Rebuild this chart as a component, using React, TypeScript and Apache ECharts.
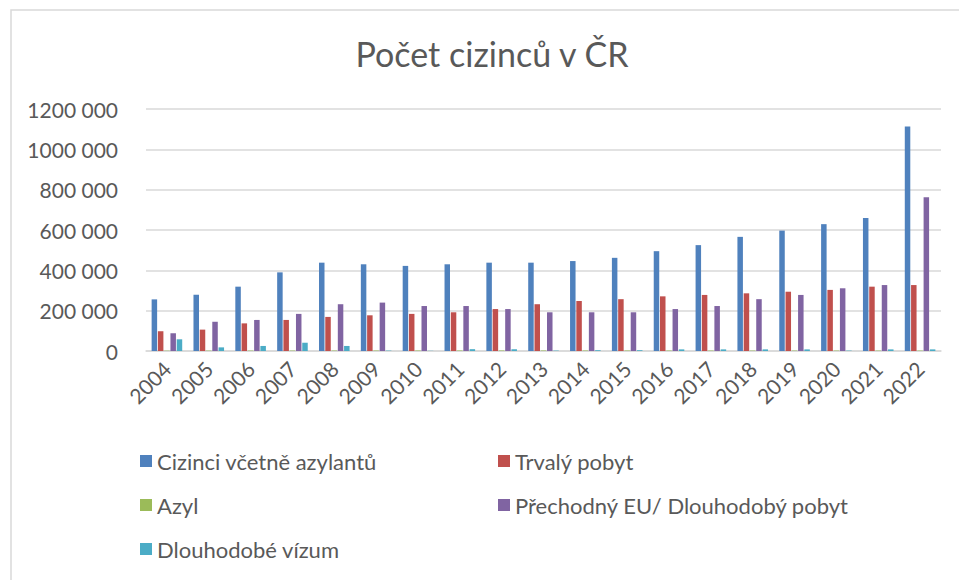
import React, { useEffect, useRef } from "react";
import * as echarts from "echarts";

const years = ["2004","2005","2006","2007","2008","2009","2010","2011","2012","2013","2014","2015","2016","2017","2018","2019","2020","2021","2022"];
const cizinci = [256000, 279000, 319000, 390000, 438000, 430000, 422000, 430000, 438000, 438000, 446000, 462000, 495000, 525000, 566000, 597000, 629000, 660000, 1113000];
const trvaly = [98000, 106000, 137000, 154000, 169000, 177000, 184000, 192000, 208000, 232000, 248000, 257000, 271000, 278000, 286000, 294000, 303000, 319000, 327000];
const azyl = [1600, 1900, 2000, 2100, 2200, 2300, 2400, 2500, 2600, 2500, 2400, 2400, 2300, 2200, 2100, 2000, 2000, 2000, 2000];
const prechodny = [88000, 145000, 154000, 184000, 232000, 240000, 223000, 223000, 208000, 192000, 192000, 192000, 208000, 223000, 257000, 278000, 311000, 327000, 763000];
const vizum = [58000, 18000, 25000, 41000, 25000, 2000, 1000, 9000, 9000, 2000, 4000, 4000, 8000, 8000, 8000, 8000, 2000, 8000, 8000];
const yTickLabels = ["0", "200 000", "400 000", "600 000", "800 000", "1000 000", "1200 000"];

const seriesNames = [
  "Cizinci včetně azylantů",
  "Trvalý pobyt",
  "Azyl",
  "Přechodný EU/ Dlouhodobý pobyt",
  "Dlouhodobé vízum",
];
const colors = ["#4F81BD", "#C0504D", "#9BBB59", "#8064A2", "#4BACC6"];
const seriesData = [cizinci, trvaly, azyl, prechodny, vizum];

const FONT = "Lato, 'Open Sans', sans-serif";
const TEXT = "#595959";

export default function App() {
  const ref = useRef<HTMLDivElement>(null);
  useEffect(() => {
    if (!ref.current) return;
    const chart = echarts.init(ref.current, undefined, { renderer: "svg" });
    const legendPos = [
      { left: 140, top: 450 },
      { left: 498, top: 450 },
      { left: 140, top: 494 },
      { left: 498, top: 494 },
      { left: 140, top: 538 },
    ];
    chart.setOption({
      animation: false,
      backgroundColor: "#ffffff",
      color: colors,
      textStyle: { fontFamily: FONT },
      graphic: [
        {
          type: "rect",
          shape: { x: 11, y: 10, width: 1000, height: 620 },
          style: { fill: "none", stroke: "#d9d9d9", lineWidth: 1.5 },
          silent: true,
        },
        {
          type: "text",
          x: 492,
          y: 53,
          style: {
            text: "Počet cizinců v ČR",
            font: `34px ${FONT}`,
            fill: TEXT,
            textAlign: "center",
            textVerticalAlign: "middle",
          },
        },
      ],
      legend: seriesNames.map((n, i) => ({
        data: [n],
        left: legendPos[i].left,
        top: legendPos[i].top,
        padding: 0,
        icon: "rect",
        itemWidth: 12,
        itemHeight: 12,
        itemGap: 7,
        selectedMode: false,
        textStyle: { fontFamily: FONT, fontSize: 22, color: TEXT, padding: [0, 0, 0, 0] },
      })),
      grid: { left: 146, right: 18, top: 109, bottom: 229, containLabel: false },
      xAxis: {
        type: "category",
        data: years,
        axisLine: { lineStyle: { color: "#d9d9d9", width: 1.5 } },
        axisTick: { show: false },
        axisLabel: {
          rotate: 45,
          interval: 0,
          margin: 14,
          fontFamily: FONT,
          fontSize: 21,
          color: TEXT,
        },
      },
      yAxis: {
        type: "value",
        min: 0,
        max: 1200000,
        interval: 200000,
        axisLine: { show: false },
        axisTick: { show: false },
        splitLine: { lineStyle: { color: "#d9d9d9", width: 1.5 } },
        axisLabel: {
          margin: 28,
          fontFamily: FONT,
          fontSize: 21,
          color: TEXT,
          formatter: (v: number) => yTickLabels[Math.round(v / 200000)] ?? String(v),
        },
      },
      series: seriesNames.map((n, i) => ({
        name: n,
        type: "bar",
        data: seriesData[i],
        barWidth: 5.5,
        barGap: "14%",
        itemStyle: { color: colors[i] },
      })),
    });
    return () => chart.dispose();
  }, []);
  return (
    <div
      ref={ref}
      style={{ position: "fixed", left: 0, top: 0, width: 959, height: 580 }}
    />
  );
}
